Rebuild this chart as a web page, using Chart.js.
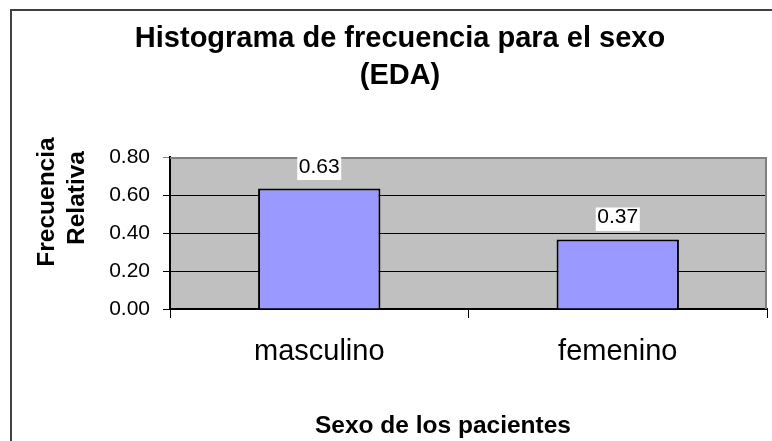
<!DOCTYPE html>
<html>
<head>
<meta charset="utf-8">
<script src="https://cdn.jsdelivr.net/npm/chart.js@4.4.1/dist/chart.umd.min.js"></script>
<style>
  html, body { margin: 0; padding: 0; background: #ffffff; }
  canvas { display: block; }
</style>
</head>
<body>
<canvas id="c" width="772" height="441"></canvas>
<script>
const chartTitle = ['Histograma de frecuencia para el sexo', '(EDA)'];
const yAxisTitle = ['Frecuencia', 'Relativa'];
const xAxisTitle = 'Sexo de los pacientes';
const categories = ['masculino', 'femenino'];
const frecuenciaRelativa = [0.634, 0.366];
const yTickValues = [0, 0.2, 0.4, 0.6, 0.8];
const yTickLabels = ['0.00', '0.20', '0.40', '0.60', '0.80'];

const FONT = "'Liberation Sans', Arial, Helvetica, sans-serif";

const decorPlugin = {
  id: 'decor',
  beforeDraw(chart) {
    const ctx = chart.ctx;
    const a = chart.chartArea;
    ctx.save();
    ctx.fillStyle = '#ffffff';
    ctx.fillRect(0, 0, chart.width, chart.height);
    // outer chart frame
    ctx.strokeStyle = '#404040';
    ctx.lineWidth = 2;
    ctx.strokeRect(11, 10, 900, 600);
    // plot area background
    ctx.fillStyle = '#C0C0C0';
    ctx.fillRect(a.left, a.top, a.right - a.left, a.bottom - a.top);
    ctx.restore();
  },
  afterDatasetsDraw(chart) {
    const ctx = chart.ctx;
    const a = chart.chartArea;
    ctx.save();
    // plot area border (top and right), gray
    ctx.strokeStyle = '#808080';
    ctx.lineWidth = 2;
    ctx.beginPath();
    ctx.moveTo(a.left, a.top + 1);
    ctx.lineTo(a.right - 1, a.top + 1);
    ctx.lineTo(a.right - 1, a.bottom);
    ctx.stroke();

    // data labels
    const meta = chart.getDatasetMeta(0);
    ctx.font = '21px ' + FONT;
    ctx.textAlign = 'center';
    ctx.textBaseline = 'alphabetic';
    meta.data.forEach((el, i) => {
      const txt = frecuenciaRelativa[i].toFixed(2);
      const boxBottom = el.y - 8.5;
      const boxH = 23.5;
      const boxW = 44;
      ctx.fillStyle = '#ffffff';
      ctx.fillRect(el.x - boxW / 2, boxBottom - boxH, boxW, boxH);
      ctx.fillStyle = '#000000';
      ctx.fillText(txt, el.x, boxBottom - 7.5);
    });

    // main title
    ctx.font = 'bold 29px ' + FONT;
    ctx.fillText(chartTitle[0], 400, 46.5);
    ctx.fillText(chartTitle[1], 400, 83.5);

    // x axis title
    ctx.font = 'bold 24.5px ' + FONT;
    ctx.fillText(xAxisTitle, 443, 433);

    // y axis title (rotated)
    ctx.font = 'bold 24.5px ' + FONT;
    ctx.save();
    ctx.translate(53.5, 202);
    ctx.rotate(-Math.PI / 2);
    ctx.fillText(yAxisTitle[0], 0, 0);
    ctx.restore();
    ctx.save();
    ctx.translate(83.5, 198);
    ctx.rotate(-Math.PI / 2);
    ctx.fillText(yAxisTitle[1], 0, 0);
    ctx.restore();
    ctx.restore();
  }
};

new Chart(document.getElementById('c'), {
  type: 'bar',
  data: {
    labels: categories,
    datasets: [{
      data: frecuenciaRelativa,
      backgroundColor: '#9999FF',
      borderColor: '#000000',
      borderWidth: 2,
      barPercentage: 0.41,
      categoryPercentage: 1.0
    }]
  },
  options: {
    responsive: false,
    devicePixelRatio: 1,
    animation: false,
    layout: { padding: { left: 0, top: 157, right: 5, bottom: 0 } },
    plugins: {
      legend: { display: false },
      title: { display: false },
      tooltip: { enabled: false }
    },
    scales: {
      x: {
        offset: true,
        grid: {
          offset: true,
          drawOnChartArea: false,
          drawTicks: true,
          tickLength: 9,
          lineWidth: 1,
          color: (c) => (c.index === categories.length ? '#808080' : '#000000')
        },
        border: { display: true, color: '#000000', width: 2 },
        ticks: {
          color: '#000000',
          font: { family: FONT, size: 29 },
          padding: 17,
          maxRotation: 0,
          autoSkip: false
        },
        afterFit: (s) => { s.height = 132; }
      },
      y: {
        min: 0,
        max: 0.8,
        afterBuildTicks: (s) => { s.ticks = yTickValues.map(v => ({ value: v })); },
        grid: {
          drawTicks: true,
          tickLength: 7,
          lineWidth: 1,
          color: (c) => (c.tick && c.tick.value === 0.8 ? '#808080' : '#000000')
        },
        border: { display: true, color: '#000000', width: 2 },
        ticks: {
          color: '#000000',
          font: { family: FONT, size: 21 },
          padding: 13,
          callback: (v, i) => yTickLabels[i]
        },
        afterFit: (s) => { s.width = 170; }
      }
    }
  },
  plugins: [decorPlugin]
});
</script>
</body>
</html>
